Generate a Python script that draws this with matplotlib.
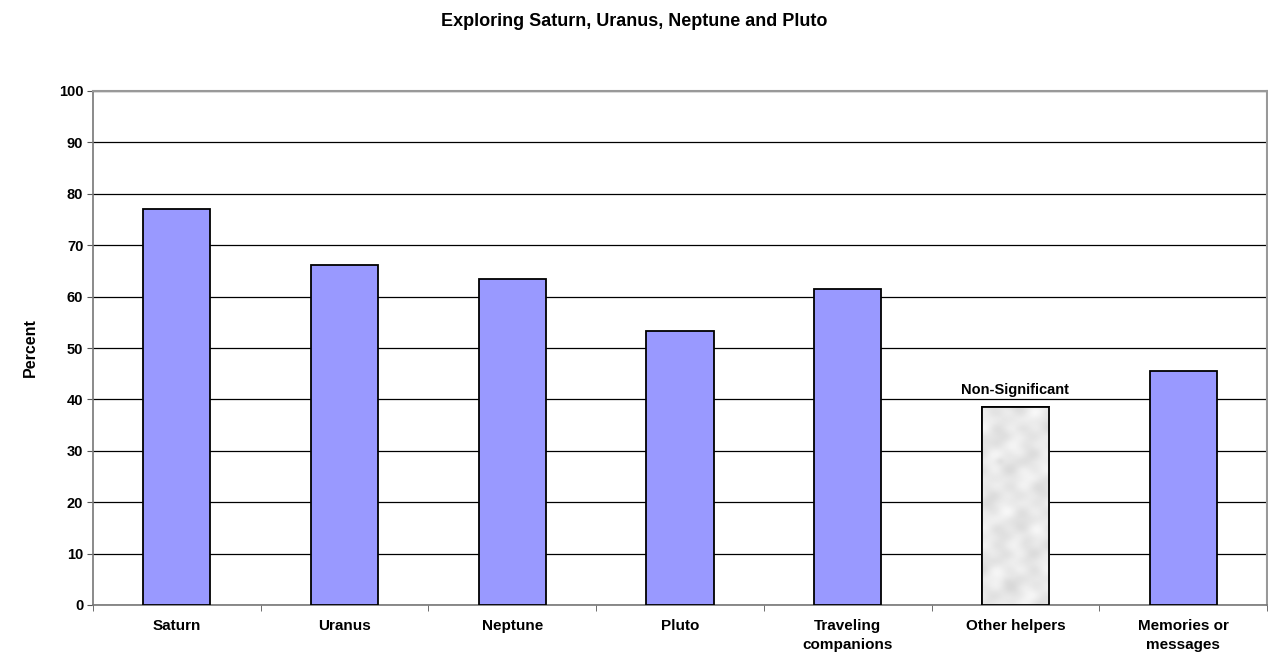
import numpy as np
import matplotlib
matplotlib.use("Agg")
import matplotlib.pyplot as plt

# data
categories = ["Saturn", "Uranus", "Neptune", "Pluto", "Traveling\ncompanions",
              "Other helpers", "Memories or\nmessages"]
percent = [77.0, 66.1, 63.4, 53.3, 61.5, 38.5, 45.5]
non_sig = "Other helpers"

plt.rcParams['font.family'] = ['Liberation Sans', 'DejaVu Sans']

fig = plt.figure(figsize=(12.68, 6.59), dpi=100)
ax = fig.add_axes([93 / 1268, 54 / 659, 1174 / 1268, 514 / 659])

x = np.arange(len(categories))
colors = ['#9999ff' if c != non_sig else '#e8e8e8' for c in categories]
bars = ax.bar(x, percent, width=0.4, color=colors, edgecolor='black',
              linewidth=1.3, zorder=3)

# soft marble fill for the non-significant bar (deterministic pattern)
i = categories.index(non_sig)
b = bars[i]
yy, xx = np.mgrid[0:240, 0:70] / 10.0
tex = (0.91
       + 0.02 * np.sin(1.3 * xx + 0.9 * yy)
       + 0.015 * np.sin(0.5 * yy - 2.3 * xx + 1.0)
       + 0.015 * np.cos(1.7 * yy + 0.6 * xx + 2.0)
       + 0.012 * np.sin(3.1 * yy) * np.cos(2.3 * xx)
       - 0.04 * np.exp(-((xx - 4.5) ** 2 + (yy - 16.0) ** 2) / 0.6)
       - 0.04 * np.exp(-((xx - 1.8) ** 2 + (yy - 6.5) ** 2) / 0.2)
       - 0.03 * np.exp(-((xx - 2.5) ** 2 + (yy - 21.0) ** 2) / 0.3))
im = ax.imshow(tex, cmap='gray', vmin=0, vmax=1, aspect='auto',
               extent=[b.get_x(), b.get_x() + b.get_width(), 0, b.get_height()],
               zorder=3.5, interpolation='bilinear')
im.set_clip_path(b)
ax.bar(x[i], percent[i], width=0.4, facecolor='none', edgecolor='black',
       linewidth=1.3, zorder=4)
ax.text(x[i], percent[i] + 2.0, "Non-Significant", ha='center', va='bottom',
        fontsize=10.5, fontweight='bold')

ax.set_xlim(-0.5, len(categories) - 0.5)
ax.set_ylim(0, 100)
ax.set_yticks(range(0, 101, 10))
ax.yaxis.grid(True, color='black', linewidth=0.9, zorder=0)
ax.set_axisbelow(True)

ax.set_xticks(x)
ax.set_xticklabels(categories, fontsize=11, fontweight='bold', linespacing=1.45)
ax.set_xticks(np.arange(-0.5, len(categories)), minor=True)
ax.tick_params(axis='x', which='major', length=0, pad=10)
ax.tick_params(axis='x', which='minor', length=4, color='#555555')
ax.tick_params(axis='y', length=4, color='#555555', pad=3)
for lab in ax.get_yticklabels():
    lab.set_fontweight('bold')
    lab.set_fontsize(10.5)

for s in ['top', 'right']:
    ax.spines[s].set_color('#999999')
    ax.spines[s].set_linewidth(1.5)
for s in ['left', 'bottom']:
    ax.spines[s].set_color('#777777')
    ax.spines[s].set_linewidth(1.2)

ax.set_ylabel("Percent", fontsize=11.5, fontweight='bold')
ax.yaxis.set_label_coords((38 - 93) / 1174, 0.5)
fig.text(0.5, 1 - 21 / 659, "Exploring Saturn, Uranus, Neptune and Pluto",
         ha='center', va='center', fontsize=13, fontweight='bold')

fig.savefig("out.png", dpi=100)
